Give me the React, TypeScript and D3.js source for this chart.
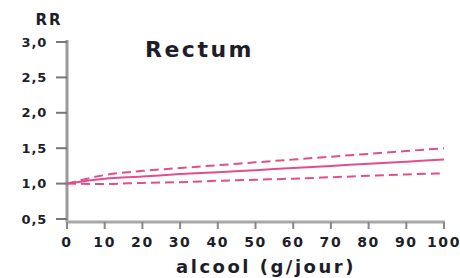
import React from "react";
import * as d3 from "d3";

const width = 460;
const height = 278;
const margin = { top: 42, right: 16, bottom: 59, left: 67 };
const pink = "#e04e8e";
const font = "'DejaVu Sans', Verdana, sans-serif";

// alcohol dose (g/day) and relative risk
const alcool = [0, 10, 20, 30, 40, 50, 60, 70, 80, 90, 100];
const rr = [1.0, 1.07, 1.1, 1.135, 1.16, 1.19, 1.22, 1.25, 1.28, 1.31, 1.34];
const rrUpper = [1.0, 1.12, 1.18, 1.22, 1.26, 1.3, 1.34, 1.38, 1.42, 1.46, 1.5];
const rrLower = [1.0, 0.995, 1.01, 1.02, 1.04, 1.055, 1.07, 1.09, 1.11, 1.13, 1.145];

const xTicks = [0, 10, 20, 30, 40, 50, 60, 70, 80, 90, 100];
const yTicks = [0.5, 1.0, 1.5, 2.0, 2.5, 3.0];

const title = "Rectum";
const xTitle = "alcool (g/jour)";
const yTitle = "RR";

export default function App() {
  const xScale = d3
    .scaleLinear()
    .domain([0, 100])
    .range([margin.left, width - margin.right]);
  const yScale = d3
    .scaleLinear()
    .domain([0.5, 3.0])
    .range([height - margin.bottom, margin.top]);

  const line = (vals: number[]) =>
    d3
      .line<number>()
      .x((_, i) => xScale(alcool[i]))
      .y(d => yScale(d))
      .curve(d3.curveMonotoneX)(vals) || "";

  const axisY = yScale(0.5) + 3; // x axis sits a touch below the 0,5 tick
  const fmt = (d: number) => d.toFixed(1).replace(".", ",");

  return (
    <svg
      width={width}
      height={height}
      style={{ position: "absolute", left: 0, top: 0, background: "#fff" }}
    >
      {/* y axis */}
      <line
        x1={margin.left}
        x2={margin.left}
        y1={yScale(3.0) - 2}
        y2={axisY + 1}
        stroke="#9a9a9a"
        strokeWidth={3}
      />
      {yTicks.map(t => (
        <g key={t}>
          <line
            x1={margin.left - 11}
            x2={margin.left}
            y1={yScale(t)}
            y2={yScale(t)}
            stroke="#777"
            strokeWidth={2}
          />
          <text
            x={47}
            y={yScale(t)}
            dy="0.36em"
            textAnchor="end"
            fontFamily={font}
            fontWeight="bold"
            fontSize={13}
            letterSpacing={0.8}
            fill="#1e1e2a"
          >
            {fmt(t)}
          </text>
        </g>
      ))}

      {/* x axis */}
      <line
        x1={margin.left - 1}
        x2={xScale(100) + 1}
        y1={axisY}
        y2={axisY}
        stroke="#a8a8a8"
        strokeWidth={3}
      />
      {xTicks.map(t => (
        <g key={t}>
          <line
            x1={xScale(t)}
            x2={xScale(t)}
            y1={axisY}
            y2={axisY + 7}
            stroke="#888"
            strokeWidth={2}
          />
          <text
            x={xScale(t)}
            y={242}
            dy="0.36em"
            textAnchor="middle"
            fontFamily={font}
            fontWeight="bold"
            fontSize={14}
            letterSpacing={1.6}
            fill="#1e1e2a"
          >
            {t}
          </text>
        </g>
      ))}

      {/* curves */}
      <path d={line(rrUpper)} fill="none" stroke={pink} strokeWidth={2} strokeDasharray="9,5" />
      <path d={line(rrLower)} fill="none" stroke={pink} strokeWidth={2} strokeDasharray="9,5" />
      <path d={line(rr)} fill="none" stroke={pink} strokeWidth={2} />

      {/* labels */}
      <text
        x={49}
        y={20}
        dy="0.36em"
        textAnchor="middle"
        fontFamily={font}
        fontWeight="bold"
        fontSize={15}
        letterSpacing={2}
        fill="#1e1e2a"
      >
        {yTitle}
      </text>
      <text
        x={145}
        y={57}
        fontFamily={font}
        fontWeight="bold"
        fontSize={22}
        letterSpacing={2.5}
        fill="#1e1e2a"
      >
        {title}
      </text>
      <text
        x={266}
        y={273}
        textAnchor="middle"
        fontFamily={font}
        fontWeight="bold"
        fontSize={18}
        letterSpacing={2.5}
        fill="#1e1e2a"
      >
        {xTitle}
      </text>
    </svg>
  );
}
